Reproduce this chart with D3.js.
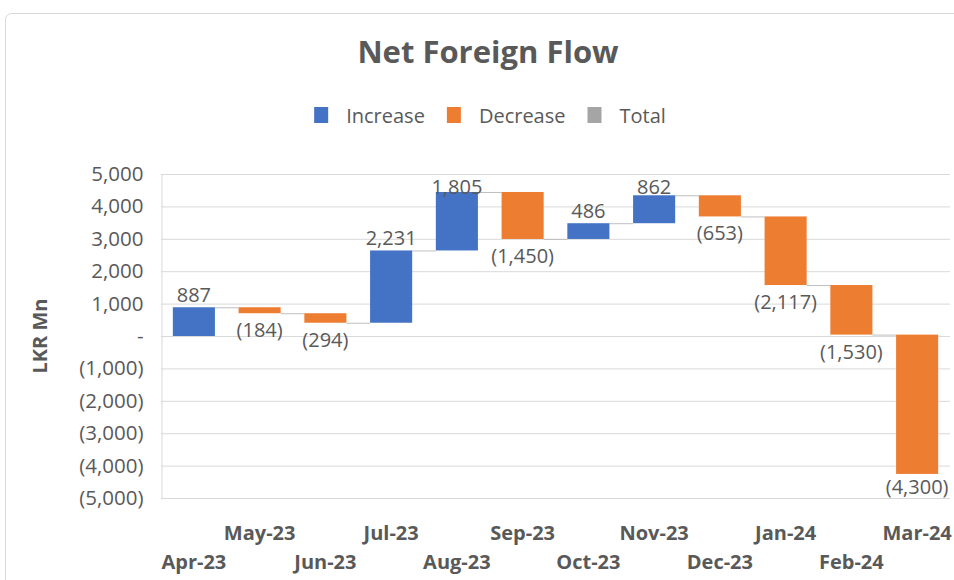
<!DOCTYPE html>
<html>
<head>
<meta charset="utf-8">
<script src="https://cdn.jsdelivr.net/npm/d3@7"></script>
<style>
  html, body { margin: 0; padding: 0; background: #fff; }
  svg { display: block; font-family: "Open Sans", sans-serif; }
</style>
</head>
<body>
<svg id="chart" width="954" height="580"></svg>
<script>
// data
var months = ["Apr-23", "May-23", "Jun-23", "Jul-23", "Aug-23", "Sep-23",
              "Oct-23", "Nov-23", "Dec-23", "Jan-24", "Feb-24", "Mar-24"];
var flows = [887, -184, -294, 2231, 1805, -1450, 486, 862, -653, -2117, -1530, -4300];
var yTicks = [5000, 4000, 3000, 2000, 1000, 0, -1000, -2000, -3000, -4000, -5000];
var legendItems = ["Increase", "Decrease", "Total"];

var COLORS = { Increase: "#4472c4", Decrease: "#ed7d31", Total: "#a5a5a5" };
var TEXT = "#595959";
var GRID = "#d9d9d9";

var plot = { left: 161, right: 950, top: 174, bottom: 498 };

var svg = d3.select("#chart");

// running totals for the waterfall
var steps = [];
var run = 0;
flows.forEach(function (v, i) {
    steps.push({ month: months[i], value: v, start: run, end: run + v });
    run += v;
});

// chart frame (right/bottom edges fall off the picture)
svg.append("rect")
    .attr("x", 5.5).attr("y", 13.5)
    .attr("width", 980).attr("height", 600)
    .attr("rx", 6)
    .attr("fill", "#fff")
    .attr("stroke", GRID);

var x = d3.scaleBand()
    .domain(months)
    .range([plot.left, plot.right])
    .paddingInner(0.36)
    .paddingOuter(0.18);

var y = d3.scaleLinear()
    .domain([-5000, 5000])
    .range([plot.bottom, plot.top]);

function fmt(v) {
    if (v === 0) return "-";
    var s = d3.format(",")(Math.abs(v));
    return v < 0 ? "(" + s + ")" : s;
}

// title
svg.append("text")
    .attr("x", 488).attr("y", 63)
    .attr("text-anchor", "middle")
    .style("font-size", "31px")
    .style("font-weight", "bold")
    .attr("fill", TEXT)
    .text("Net Foreign Flow");

// legend, laid out from measured text widths and centred
var lg = svg.append("g");
var lx = 0;
legendItems.forEach(function (name) {
    lg.append("rect")
        .attr("x", lx).attr("y", 107)
        .attr("width", 14).attr("height", 16)
        .attr("fill", COLORS[name]);
    var t = lg.append("text")
        .attr("x", lx + 32).attr("y", 123)
        .style("font-size", "20px")
        .attr("fill", TEXT)
        .text(name);
    lx += 32 + t.node().getComputedTextLength() + 22;
});
var lgWidth = lx - 22;
lg.attr("transform", "translate(" + (490 - lgWidth / 2) + ",0)");

// gridlines
svg.append("g")
    .selectAll("line")
    .data(yTicks)
    .enter().append("line")
    .attr("x1", plot.left).attr("x2", plot.right)
    .attr("y1", function (d) { return y(d) + 0.5; })
    .attr("y2", function (d) { return y(d) + 0.5; })
    .attr("stroke", GRID);

// y axis
var yAxis = svg.append("g")
    .attr("transform", "translate(" + (plot.left + 0.5) + ",0)")
    .call(d3.axisLeft(y).tickValues(yTicks).tickFormat(fmt).tickSize(0).tickPadding(18));
yAxis.select(".domain").attr("stroke", GRID);
yAxis.selectAll("text")
    .attr("fill", TEXT)
    .style("font-size", "20.5px")
    .style("font-family", "'Open Sans', sans-serif");

svg.append("text")
    .attr("transform", "translate(47," + 336 + ") rotate(-90)")
    .attr("text-anchor", "middle")
    .style("font-size", "20px")
    .style("font-weight", "bold")
    .attr("fill", TEXT)
    .text("LKR Mn");

// connectors between bars
svg.append("g")
    .selectAll("line")
    .data(steps.slice(0, -1))
    .enter().append("line")
    .attr("x1", function (d) { return x(d.month) + x.bandwidth(); })
    .attr("x2", function (d, i) { return x(months[i + 1]); })
    .attr("y1", function (d) { return y(d.end) + 0.5; })
    .attr("y2", function (d) { return y(d.end) + 0.5; })
    .attr("stroke", "#bfbfbf");

// bars
svg.append("g")
    .selectAll("rect")
    .data(steps)
    .enter().append("rect")
    .attr("x", function (d) { return x(d.month); })
    .attr("width", x.bandwidth())
    .attr("y", function (d) { return y(Math.max(d.start, d.end)); })
    .attr("height", function (d) { return Math.abs(y(d.start) - y(d.end)); })
    .attr("fill", function (d) { return d.value >= 0 ? COLORS.Increase : COLORS.Decrease; });

// data labels: above increases, below decreases, kept inside the plot
svg.append("g")
    .selectAll("text")
    .data(steps)
    .enter().append("text")
    .attr("x", function (d) { return x(d.month) + x.bandwidth() / 2; })
    .attr("y", function (d) {
        if (d.value >= 0) return Math.max(y(d.end) - 5, plot.top + 19.5);
        return Math.min(y(d.end) + 24, plot.bottom - 4);
    })
    .attr("text-anchor", "middle")
    .style("font-size", "20px")
    .attr("fill", TEXT)
    .text(function (d) { return fmt(d.value); });

// staggered month labels
svg.append("g")
    .selectAll("text")
    .data(months)
    .enter().append("text")
    .attr("x", function (d) { return x(d) + x.bandwidth() / 2; })
    .attr("y", function (d, i) { return i % 2 === 1 ? 540 : 569; })
    .attr("text-anchor", "middle")
    .style("font-size", "20px")
    .style("font-weight", "bold")
    .attr("fill", TEXT)
    .text(function (d) { return d; });
</script>
</body>
</html>
